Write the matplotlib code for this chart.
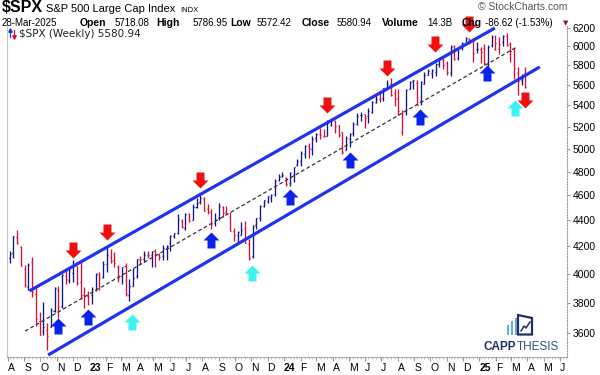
import numpy as np
import pandas as pd
import matplotlib
matplotlib.use("Agg")
import matplotlib.pyplot as plt
import matplotlib.dates as mdates
from matplotlib.collections import LineCollection
from matplotlib.lines import Line2D
from matplotlib.path import Path
from matplotlib.patches import Rectangle, Polygon
from matplotlib.ticker import NullLocator, FixedLocator

plt.rcParams['font.family'] = ['Liberation Sans', 'DejaVu Sans']

# $SPX weekly bars, weeks ending Friday, first one 5-Aug-2022
first_week = "2022-08-05"
prev_close_before = 4130  # close of the week before the first bar

opens = [4112, 4155, 4270, 4196, 4034, 3910, 4084, 3857, 3675, 3610, 3620, 3638, 3741, 3885, 3779, 3982,
         3956, 4005, 4053, 3939, 3853, 3844,
         3853, 3884, 3999, 3979, 4074, 4120, 4097, 4052, 3983, 4055, 3855, 3917, 3982, 4102, 4110, 4137,
         4134, 4166, 4136, 4126, 4190, 4226, 4283, 4300, 4396, 4337, 4450, 4404, 4505, 4543, 4578, 4492,
         4463, 4380, 4415, 4510, 4464, 4427, 4316, 4284, 4289, 4343, 4219, 4128, 4365, 4418, 4512, 4555,
         4576, 4614, 4725, 4758,
         4745, 4703, 4772, 4857, 4888, 4957, 5026, 5000, 5093, 5131, 5111, 5118, 5219, 5257, 5212, 5149,
         4987, 5085, 5142, 5221, 5311, 5315, 5298, 5341, 5432, 5460, 5471, 5572, 5615, 5526, 5476, 5152,
         5353, 5557, 5639, 5623, 5442, 5615, 5703, 5727, 5737, 5816, 5857, 5826, 5724, 6008, 5874, 5992,
         6040, 6084, 6059, 5974, 5969,
         5982, 5778, 6014, 5969, 5969, 6049, 6115, 6026, 5968, 5721, 5653, 5718]
highs = [4167, 4280, 4325, 4203, 4062, 4077, 4119, 3907, 3736, 3806, 3665, 3762, 3905, 3911, 4001, 4028,
         4034, 4101, 4053, 4101, 3906, 3878,
         3906, 4003, 4015, 4094, 4195, 4182, 4156, 4060, 4048, 4079, 3964, 4039, 4110, 4133, 4163, 4169,
         4170, 4184, 4154, 4212, 4212, 4290, 4299, 4448, 4409, 4458, 4456, 4527, 4578, 4607, 4584, 4527,
         4490, 4458, 4541, 4514, 4511, 4466, 4338, 4320, 4385, 4393, 4255, 4366, 4415, 4521, 4560, 4595,
         4610, 4738, 4778, 4793,
         4754, 4798, 4842, 4907, 4975, 5030, 5048, 5111, 5141, 5189, 5180, 5262, 5264, 5264, 5220, 5151,
         5114, 5146, 5239, 5325, 5342, 5315, 5375, 5447, 5506, 5523, 5570, 5655, 5669, 5566, 5566, 5357,
         5563, 5643, 5651, 5651, 5636, 5733, 5767, 5765, 5822, 5878, 5878, 5843, 6012, 6017, 5972, 6044,
         6099, 6085, 6090, 6049, 5995,
         6021, 6014, 6128, 6120, 6101, 6127, 6147, 6043, 5986, 5783, 5715, 5787]
lows = [4080, 4112, 4218, 4057, 3907, 3886, 3838, 3647, 3584, 3584, 3491, 3638, 3735, 3698, 3767, 3928,
        3938, 3939, 3918, 3827, 3764, 3783,
        3794, 3877, 3885, 3968, 4015, 4079, 4047, 3943, 3928, 3847, 3808, 3917, 3969, 4069, 4087, 4114,
        4049, 4048, 4099, 4098, 4103, 4166, 4261, 4298, 4341, 4328, 4385, 4400, 4501, 4528, 4474, 4448,
        4335, 4356, 4403, 4430, 4448, 4316, 4238, 4216, 4284, 4223, 4103, 4113, 4330, 4393, 4510, 4537,
        4546, 4597, 4718, 4751,
        4682, 4682, 4714, 4845, 4845, 4918, 4920, 4946, 5056, 5087, 5105, 5118, 5204, 5146, 5107, 4953,
        4987, 5011, 5114, 5211, 5256, 5191, 5234, 5330, 5420, 5431, 5448, 5548, 5497, 5391, 5305, 5120,
        5306, 5557, 5560, 5402, 5406, 5615, 5703, 5674, 5696, 5784, 5762, 5702, 5696, 5853, 5853, 5959,
        6024, 6025, 5832, 5932, 5829,
        5809, 5773, 5994, 5962, 5923, 6003, 6008, 5837, 5666, 5505, 5597, 5572]
closes = [4145, 4280, 4228, 4058, 3924, 4067, 3873, 3693, 3586, 3640, 3583, 3753, 3901, 3771, 3993, 3965,
          4026, 4072, 3934, 3852, 3845, 3840,
          3895, 3999, 3973, 4071, 4136, 4090, 4079, 3970, 4046, 3862, 3917, 3971, 4109, 4105, 4138, 4134,
          4169, 4136, 4124, 4192, 4205, 4282, 4299, 4410, 4348, 4450, 4399, 4505, 4536, 4582, 4478, 4464,
          4370, 4406, 4516, 4457, 4450, 4320, 4288, 4309, 4328, 4224, 4117, 4358, 4415, 4514, 4559, 4595,
          4604, 4719, 4755, 4770,
          4697, 4784, 4840, 4891, 4959, 5027, 5006, 5089, 5137, 5124, 5117, 5234, 5254, 5204, 5123, 4967,
          5100, 5128, 5223, 5303, 5305, 5278, 5347, 5432, 5465, 5460, 5567, 5615, 5505, 5459, 5347, 5344,
          5554, 5635, 5648, 5408, 5626, 5703, 5738, 5751, 5815, 5865, 5808, 5729, 5996, 5871, 5969, 6032,
          6090, 6051, 5931, 5971, 5942,
          5827, 5997, 6101, 6041, 6026, 6115, 6013, 5955, 5770, 5639, 5668, 5581]

# trend channel and mid line, end points
upper_dates = ["2022-09-11", "2025-01-30"]
upper_prices = [3880, 6200]
lower_dates = ["2022-10-16", "2025-04-24"]
lower_prices = [3461, 5784]
mid_dates = ["2022-09-03", "2025-03-12"]
mid_prices = [3612, 5994]

# signal arrows
red_dates = ["2022-12-02", "2023-02-03", "2023-07-28", "2024-03-21", "2024-07-12", "2024-10-10",
             "2024-12-13", "2025-03-27"]
red_prices = [4174, 4310, 4728, 5405, 5773, 6026, 6244, 5454]
blue_dates = ["2022-11-04", "2022-12-30", "2023-08-17", "2024-01-12", "2024-05-04", "2024-09-12",
              "2025-01-15"]
blue_prices = [3645, 3704, 4249, 4587, 4900, 5290, 5722]
cyan_dates = ["2023-03-22", "2023-11-02", "2025-03-09"]
cyan_prices = [3672, 4006, 5376]

yticks = [3600, 3800, 4000, 4200, 4400, 4600, 4800, 5000, 5200, 5400, 5600, 5800, 6000, 6200]

W, H = 600, 375
fig = plt.figure(figsize=(W / 100, H / 100), dpi=100)
ax = fig.add_axes([7 / W, 18 / H, 560 / W, 331 / H])


def px(x, y):
    return x / W, 1 - y / H


dates = pd.date_range(first_week, periods=len(closes), freq="W-FRI")
xs = mdates.date2num(dates)

UP, DOWN = "#14148c", "#d3123a"
segs, cols = [], []
prev = prev_close_before
for x, o, h, l, c in zip(xs, opens, highs, lows, closes):
    col = UP if c >= prev else DOWN
    segs += [[(x, l), (x, h)], [(x - 1.9, o), (x, o)], [(x, c), (x + 1.9, c)]]
    cols += [col] * 3
    prev = c
ax.add_collection(LineCollection(segs, colors=cols, linewidths=0.95, zorder=2))

ax.plot(mdates.date2num(pd.to_datetime(mid_dates)), mid_prices, color="#333333", lw=0.9,
        dashes=(3, 2), zorder=3)
for d, p in [(upper_dates, upper_prices), (lower_dates, lower_prices)]:
    ax.plot(mdates.date2num(pd.to_datetime(d)), p, color="#1f33ee", lw=2.3,
            solid_capstyle="butt", zorder=4)

# block arrow marker
up_arrow = Path([(-0.5, 0.0), (0.0, 0.5), (0.5, 0.0), (0.25, 0.0), (0.25, -0.5),
                 (-0.25, -0.5), (-0.25, 0.0), (-0.5, 0.0)], closed=True)
down_arrow = Path(up_arrow.vertices * [1, -1], closed=True)
for d, p, m, c in [(red_dates, red_prices, down_arrow, "#f01010"),
                   (blue_dates, blue_prices, up_arrow, "#0a22ee"),
                   (cyan_dates, cyan_prices, up_arrow, "#3ef2f2")]:
    ax.plot(mdates.date2num(pd.to_datetime(d)), p, ls="none", marker=m, ms=11.5,
            color=c, mec="none", zorder=5, clip_on=False)

ax.set_yscale("log")
ax.set_ylim(3449, 6222)
ax.yaxis.set_major_locator(FixedLocator(yticks))
ax.yaxis.set_minor_locator(NullLocator())
ax.set_yticklabels([str(v) for v in yticks])
ax.yaxis.tick_right()
ax.tick_params(axis="y", length=2, pad=2, labelsize=7.5, color="#999999")

months = pd.date_range("2022-08-01", "2025-06-01", freq="MS")
ax.set_xticks(mdates.date2num(months))
ax.set_xticklabels([m.strftime("%y") if m.month == 1 else "JFMAMJJASOND"[m.month - 1] for m in months])
for lab, m in zip(ax.get_xticklabels(), months):
    lab.set_ha("left")
    if m.month == 1:
        lab.set_fontweight("bold")
        lab.set_fontsize(8.5)
ax.set_xticks(mdates.date2num(pd.date_range("2022-08-05", "2025-06-13", freq="W-FRI")), minor=True)
ax.tick_params(axis="x", which="major", length=3, pad=1.5, labelsize=7.5, color="#999999")
ax.tick_params(axis="x", which="minor", length=1.5, color="#bbbbbb")
ax.set_xlim(mdates.date2num(pd.Timestamp("2022-07-31")), mdates.date2num(pd.Timestamp("2025-06-14")))

ax.spines["top"].set_visible(False)
ax.spines["left"].set_color("#c4c4c4")
for s in ["right", "bottom"]:
    ax.spines[s].set_color("#9a9a9a")
    ax.spines[s].set_linestyle((0, (1, 1.5)))

# header
fig.text(*px(2, 12), "$SPX", fontsize=11.5, fontweight="bold")
fig.text(*px(46, 12), "S&P 500 Large Cap Index", fontsize=8)
fig.text(*px(180, 12), "INDX", fontsize=5.5)
fig.text(*px(478, 10), "\u00a9 StockCharts.com", fontsize=7.5, color="#555555")
header = [(2, "28-Mar-2025", False), (80, "Open", True), (115, "5718.08", False),
          (156, "High", True), (193, "5786.95", False), (230, "Low", True), (257, "5572.42", False),
          (302, "Close", True), (337, "5580.94", False), (382, "Volume", True), (427, "14.3B", False),
          (462, "Chg", True), (485, "-86.62 (-1.53%)", False)]
for x, t, b in header:
    fig.text(*px(x, 26), t, fontsize=7 if not b else 7.5, fontweight="bold" if b else "normal")
fig.text(*px(563, 25), "\u25bc", fontsize=5, color="#8b1a2b", family="DejaVu Sans")

# legend inside the plot: small up/down icon drawn as lines
for x0, y_from, y_to, c, mk in [(10, 37, 30, "#1a3ccf", "^"), (13.5, 30, 37, "#d3123a", "v")]:
    fig.add_artist(Line2D([x0 / W, x0 / W], [1 - y_from / H, 1 - y_to / H], color=c, lw=0.9))
    fig.add_artist(Line2D([x0 / W], [1 - y_to / H], marker=mk, ms=2.5, color=c, mec=c))
fig.text(*px(19, 37), "$SPX (Weekly) 5580.94", fontsize=7.5, family="DejaVu Sans", color="#222222")

# CAPPTHESIS logo
lg = fig.add_axes([480 / W, 1 - 354 / H, 80 / W, 44 / H])
lg.set_xlim(480, 560)
lg.set_ylim(354, 310)
lg.axis("off")
for x0, top in [(507, 325), (511, 321), (515, 318)]:
    lg.add_patch(Rectangle((x0, top), 2.4, 335 - top, color="#6aaee0", lw=0))
lg.add_patch(Polygon([(518, 315), (532, 318), (532, 334.5), (518, 334.5)], closed=True,
                     fc="white", ec="#1f2f66", lw=1.6))
lg.plot([521, 524, 526, 530], [331, 326, 328, 322], color="#1f2f66", lw=1.1)
capp = lg.text(484, 350, "CAPP", fontsize=8.5, fontweight="bold", color="#1f2f66")
fig.canvas.draw()
bb = capp.get_window_extent()
end_x = lg.transData.inverted().transform((bb.x1, bb.y0))[0]
lg.text(end_x + 0.3, 350, "THESIS", fontsize=8.5, color="#2f4e8c")

fig.savefig("out.png", dpi=100)
